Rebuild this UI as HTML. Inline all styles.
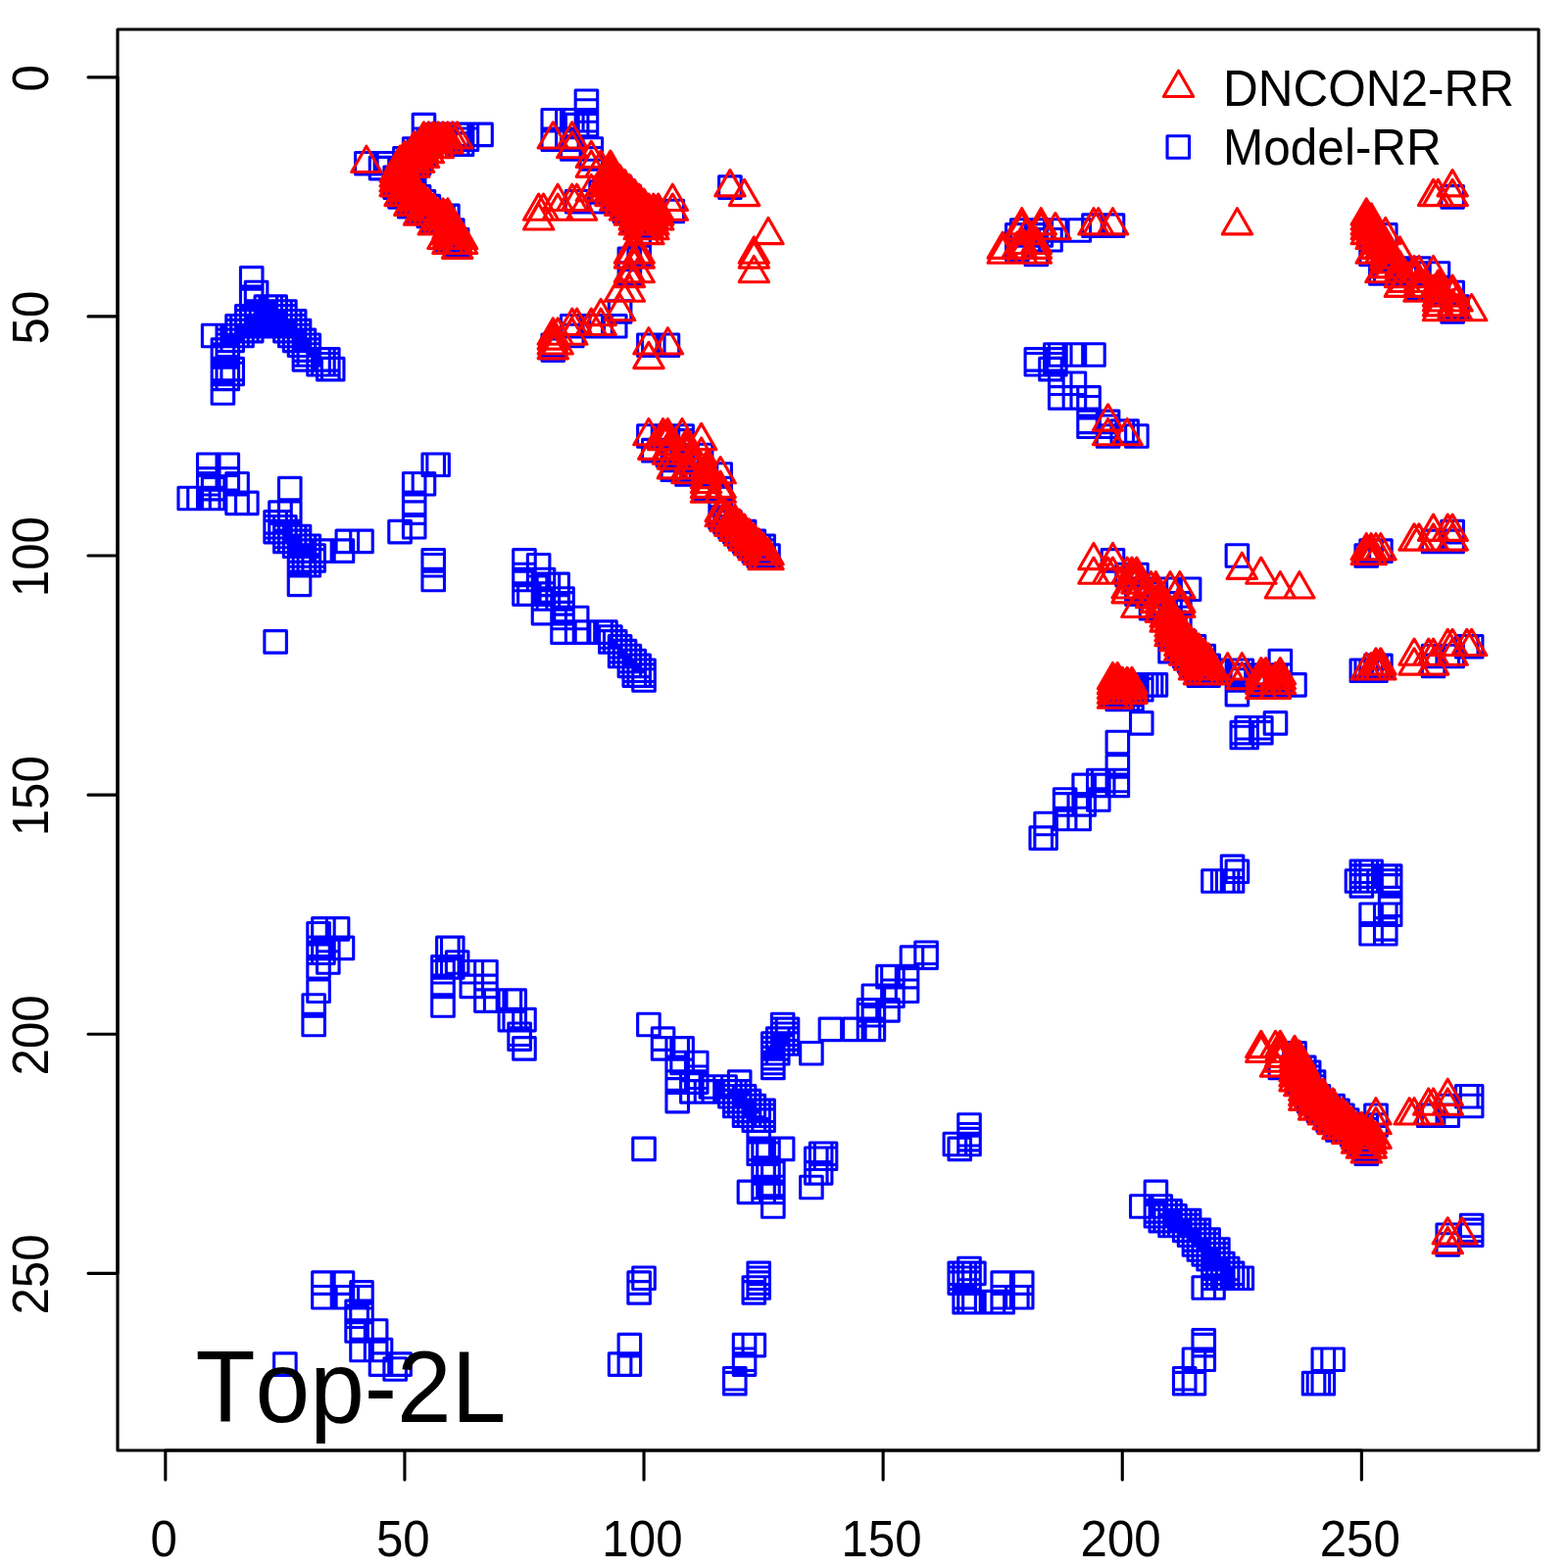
<!DOCTYPE html>
<html><head><meta charset="utf-8"><title>Top-2L contact map</title>
<style>
html,body{margin:0;padding:0;background:#fff}
svg{display:block}
text{font-family:"Liberation Sans",Arial,Helvetica,sans-serif;fill:#000;font-kerning:none}
</style></head>
<body>
<svg width="1600" height="1600" viewBox="0 0 1600 1600">
<rect width="1600" height="1600" fill="#fff"/>
<path fill="none" stroke="#00f" stroke-width="3.125" stroke-linejoin="round" d="M181.98 497.2h22.5v22.5h-22.5zM191.75 497.2h22.5v22.5h-22.5zM201.51 463.02h22.5v22.5h-22.5zM201.51 477.67h22.5v22.5h-22.5zM201.51 482.55h22.5v22.5h-22.5zM201.51 497.2h22.5v22.5h-22.5zM206.39 331.21h22.5v22.5h-22.5zM206.39 487.43h22.5v22.5h-22.5zM206.39 497.2h22.5v22.5h-22.5zM216.16 345.85h22.5v22.5h-22.5zM216.16 350.73h22.5v22.5h-22.5zM216.16 365.38h22.5v22.5h-22.5zM216.16 370.26h22.5v22.5h-22.5zM216.16 375.15h22.5v22.5h-22.5zM216.16 389.79h22.5v22.5h-22.5zM221.04 331.21h22.5v22.5h-22.5zM221.04 336.09h22.5v22.5h-22.5zM221.04 340.97h22.5v22.5h-22.5zM221.04 345.85h22.5v22.5h-22.5zM221.04 350.73h22.5v22.5h-22.5zM221.04 365.38h22.5v22.5h-22.5zM221.04 370.26h22.5v22.5h-22.5zM221.04 375.15h22.5v22.5h-22.5zM221.04 463.02h22.5v22.5h-22.5zM221.04 477.67h22.5v22.5h-22.5zM225.92 331.21h22.5v22.5h-22.5zM225.92 336.09h22.5v22.5h-22.5zM225.92 365.38h22.5v22.5h-22.5zM225.92 370.26h22.5v22.5h-22.5zM230.8 321.44h22.5v22.5h-22.5zM230.8 326.32h22.5v22.5h-22.5zM230.8 331.21h22.5v22.5h-22.5zM230.8 482.55h22.5v22.5h-22.5zM230.8 502.08h22.5v22.5h-22.5zM235.68 321.44h22.5v22.5h-22.5zM235.68 326.32h22.5v22.5h-22.5zM235.68 331.21h22.5v22.5h-22.5zM240.57 311.68h22.5v22.5h-22.5zM240.57 316.56h22.5v22.5h-22.5zM240.57 321.44h22.5v22.5h-22.5zM240.57 326.32h22.5v22.5h-22.5zM240.57 502.08h22.5v22.5h-22.5zM245.45 272.62h22.5v22.5h-22.5zM245.45 292.15h22.5v22.5h-22.5zM245.45 311.68h22.5v22.5h-22.5zM245.45 316.56h22.5v22.5h-22.5zM245.45 321.44h22.5v22.5h-22.5zM245.45 326.32h22.5v22.5h-22.5zM250.33 287.27h22.5v22.5h-22.5zM250.33 306.8h22.5v22.5h-22.5zM250.33 311.68h22.5v22.5h-22.5zM250.33 316.56h22.5v22.5h-22.5zM250.33 321.44h22.5v22.5h-22.5zM255.21 306.8h22.5v22.5h-22.5zM255.21 311.68h22.5v22.5h-22.5zM255.21 316.56h22.5v22.5h-22.5zM255.21 321.44h22.5v22.5h-22.5zM260.1 301.91h22.5v22.5h-22.5zM260.1 306.8h22.5v22.5h-22.5zM260.1 311.68h22.5v22.5h-22.5zM260.1 316.56h22.5v22.5h-22.5zM260.1 321.44h22.5v22.5h-22.5zM264.98 301.91h22.5v22.5h-22.5zM264.98 306.8h22.5v22.5h-22.5zM264.98 311.68h22.5v22.5h-22.5zM264.98 316.56h22.5v22.5h-22.5zM264.98 321.44h22.5v22.5h-22.5zM269.86 301.91h22.5v22.5h-22.5zM269.86 306.8h22.5v22.5h-22.5zM269.86 311.68h22.5v22.5h-22.5zM269.86 316.56h22.5v22.5h-22.5zM269.86 321.44h22.5v22.5h-22.5zM269.86 521.61h22.5v22.5h-22.5zM269.86 526.49h22.5v22.5h-22.5zM269.86 531.37h22.5v22.5h-22.5zM269.86 643.66h22.5v22.5h-22.5zM274.74 306.8h22.5v22.5h-22.5zM274.74 311.68h22.5v22.5h-22.5zM274.74 316.56h22.5v22.5h-22.5zM274.74 321.44h22.5v22.5h-22.5zM274.74 511.85h22.5v22.5h-22.5zM274.74 521.61h22.5v22.5h-22.5zM274.74 526.49h22.5v22.5h-22.5zM274.74 531.37h22.5v22.5h-22.5zM279.62 306.8h22.5v22.5h-22.5zM279.62 311.68h22.5v22.5h-22.5zM279.62 316.56h22.5v22.5h-22.5zM279.62 321.44h22.5v22.5h-22.5zM279.62 326.32h22.5v22.5h-22.5zM279.62 526.49h22.5v22.5h-22.5zM279.62 531.37h22.5v22.5h-22.5zM279.62 536.26h22.5v22.5h-22.5zM279.62 541.14h22.5v22.5h-22.5zM279.62 1380.87h22.5v22.5h-22.5zM284.51 316.56h22.5v22.5h-22.5zM284.51 321.44h22.5v22.5h-22.5zM284.51 326.32h22.5v22.5h-22.5zM284.51 331.21h22.5v22.5h-22.5zM284.51 487.43h22.5v22.5h-22.5zM284.51 511.85h22.5v22.5h-22.5zM284.51 531.37h22.5v22.5h-22.5zM284.51 536.26h22.5v22.5h-22.5zM284.51 541.14h22.5v22.5h-22.5zM289.39 316.56h22.5v22.5h-22.5zM289.39 321.44h22.5v22.5h-22.5zM289.39 326.32h22.5v22.5h-22.5zM289.39 331.21h22.5v22.5h-22.5zM289.39 336.09h22.5v22.5h-22.5zM289.39 536.26h22.5v22.5h-22.5zM289.39 541.14h22.5v22.5h-22.5zM289.39 546.02h22.5v22.5h-22.5zM294.27 326.32h22.5v22.5h-22.5zM294.27 331.21h22.5v22.5h-22.5zM294.27 336.09h22.5v22.5h-22.5zM294.27 340.97h22.5v22.5h-22.5zM294.27 536.26h22.5v22.5h-22.5zM294.27 541.14h22.5v22.5h-22.5zM294.27 546.02h22.5v22.5h-22.5zM294.27 550.9h22.5v22.5h-22.5zM294.27 555.79h22.5v22.5h-22.5zM294.27 560.67h22.5v22.5h-22.5zM294.27 565.55h22.5v22.5h-22.5zM294.27 585.08h22.5v22.5h-22.5zM299.15 336.09h22.5v22.5h-22.5zM299.15 340.97h22.5v22.5h-22.5zM299.15 345.85h22.5v22.5h-22.5zM299.15 350.73h22.5v22.5h-22.5zM299.15 355.62h22.5v22.5h-22.5zM299.15 546.02h22.5v22.5h-22.5zM299.15 550.9h22.5v22.5h-22.5zM299.15 555.79h22.5v22.5h-22.5zM299.15 560.67h22.5v22.5h-22.5zM299.15 565.55h22.5v22.5h-22.5zM304.03 340.97h22.5v22.5h-22.5zM304.03 345.85h22.5v22.5h-22.5zM304.03 350.73h22.5v22.5h-22.5zM304.03 546.02h22.5v22.5h-22.5zM304.03 550.9h22.5v22.5h-22.5zM304.03 555.79h22.5v22.5h-22.5zM304.03 560.67h22.5v22.5h-22.5zM304.03 565.55h22.5v22.5h-22.5zM308.92 555.79h22.5v22.5h-22.5zM308.92 560.67h22.5v22.5h-22.5zM308.92 1014.71h22.5v22.5h-22.5zM308.92 1034.24h22.5v22.5h-22.5zM313.8 355.62h22.5v22.5h-22.5zM313.8 360.5h22.5v22.5h-22.5zM313.8 941.47h22.5v22.5h-22.5zM313.8 956.12h22.5v22.5h-22.5zM313.8 961h22.5v22.5h-22.5zM313.8 975.65h22.5v22.5h-22.5zM313.8 1000.06h22.5v22.5h-22.5zM318.68 355.62h22.5v22.5h-22.5zM318.68 360.5h22.5v22.5h-22.5zM318.68 550.9h22.5v22.5h-22.5zM318.68 936.59h22.5v22.5h-22.5zM318.68 956.12h22.5v22.5h-22.5zM318.68 961h22.5v22.5h-22.5zM318.68 1297.87h22.5v22.5h-22.5zM318.68 1312.52h22.5v22.5h-22.5zM323.56 355.62h22.5v22.5h-22.5zM323.56 360.5h22.5v22.5h-22.5zM323.56 365.38h22.5v22.5h-22.5zM323.56 956.12h22.5v22.5h-22.5zM323.56 970.77h22.5v22.5h-22.5zM328.45 365.38h22.5v22.5h-22.5zM333.33 936.59h22.5v22.5h-22.5zM338.21 550.9h22.5v22.5h-22.5zM338.21 956.12h22.5v22.5h-22.5zM338.21 1297.87h22.5v22.5h-22.5zM338.21 1312.52h22.5v22.5h-22.5zM343.09 541.14h22.5v22.5h-22.5zM343.09 1312.52h22.5v22.5h-22.5zM352.86 1327.16h22.5v22.5h-22.5zM352.86 1332.05h22.5v22.5h-22.5zM352.86 1346.69h22.5v22.5h-22.5zM357.74 541.14h22.5v22.5h-22.5zM357.74 1307.64h22.5v22.5h-22.5zM357.74 1312.52h22.5v22.5h-22.5zM357.74 1327.16h22.5v22.5h-22.5zM357.74 1346.69h22.5v22.5h-22.5zM357.74 1366.22h22.5v22.5h-22.5zM362.62 155.45h22.5v22.5h-22.5zM372.38 1346.69h22.5v22.5h-22.5zM372.38 1366.22h22.5v22.5h-22.5zM377.27 160.33h22.5v22.5h-22.5zM377.27 1366.22h22.5v22.5h-22.5zM377.27 1380.87h22.5v22.5h-22.5zM382.15 155.45h22.5v22.5h-22.5zM391.91 170.1h22.5v22.5h-22.5zM391.91 174.98h22.5v22.5h-22.5zM391.91 179.86h22.5v22.5h-22.5zM391.91 1385.75h22.5v22.5h-22.5zM396.8 160.33h22.5v22.5h-22.5zM396.8 165.21h22.5v22.5h-22.5zM396.8 170.1h22.5v22.5h-22.5zM396.8 174.98h22.5v22.5h-22.5zM396.8 179.86h22.5v22.5h-22.5zM396.8 184.74h22.5v22.5h-22.5zM396.8 189.62h22.5v22.5h-22.5zM396.8 531.37h22.5v22.5h-22.5zM396.8 1380.87h22.5v22.5h-22.5zM401.68 150.57h22.5v22.5h-22.5zM401.68 155.45h22.5v22.5h-22.5zM401.68 160.33h22.5v22.5h-22.5zM401.68 165.21h22.5v22.5h-22.5zM401.68 170.1h22.5v22.5h-22.5zM401.68 174.98h22.5v22.5h-22.5zM401.68 179.86h22.5v22.5h-22.5zM401.68 184.74h22.5v22.5h-22.5zM401.68 189.62h22.5v22.5h-22.5zM406.56 150.57h22.5v22.5h-22.5zM406.56 155.45h22.5v22.5h-22.5zM406.56 160.33h22.5v22.5h-22.5zM406.56 165.21h22.5v22.5h-22.5zM406.56 170.1h22.5v22.5h-22.5zM406.56 174.98h22.5v22.5h-22.5zM406.56 179.86h22.5v22.5h-22.5zM406.56 184.74h22.5v22.5h-22.5zM406.56 189.62h22.5v22.5h-22.5zM406.56 194.51h22.5v22.5h-22.5zM406.56 199.39h22.5v22.5h-22.5zM411.44 140.8h22.5v22.5h-22.5zM411.44 145.68h22.5v22.5h-22.5zM411.44 150.57h22.5v22.5h-22.5zM411.44 155.45h22.5v22.5h-22.5zM411.44 160.33h22.5v22.5h-22.5zM411.44 165.21h22.5v22.5h-22.5zM411.44 170.1h22.5v22.5h-22.5zM411.44 174.98h22.5v22.5h-22.5zM411.44 179.86h22.5v22.5h-22.5zM411.44 184.74h22.5v22.5h-22.5zM411.44 189.62h22.5v22.5h-22.5zM411.44 194.51h22.5v22.5h-22.5zM411.44 199.39h22.5v22.5h-22.5zM411.44 482.55h22.5v22.5h-22.5zM411.44 502.08h22.5v22.5h-22.5zM411.44 511.85h22.5v22.5h-22.5zM411.44 526.49h22.5v22.5h-22.5zM416.32 140.8h22.5v22.5h-22.5zM416.32 145.68h22.5v22.5h-22.5zM416.32 150.57h22.5v22.5h-22.5zM416.32 155.45h22.5v22.5h-22.5zM416.32 189.62h22.5v22.5h-22.5zM416.32 194.51h22.5v22.5h-22.5zM416.32 199.39h22.5v22.5h-22.5zM416.32 204.27h22.5v22.5h-22.5zM421.21 116.39h22.5v22.5h-22.5zM421.21 131.04h22.5v22.5h-22.5zM421.21 135.92h22.5v22.5h-22.5zM421.21 140.8h22.5v22.5h-22.5zM421.21 145.68h22.5v22.5h-22.5zM421.21 194.51h22.5v22.5h-22.5zM421.21 199.39h22.5v22.5h-22.5zM421.21 204.27h22.5v22.5h-22.5zM421.21 482.55h22.5v22.5h-22.5zM426.09 131.04h22.5v22.5h-22.5zM426.09 135.92h22.5v22.5h-22.5zM426.09 199.39h22.5v22.5h-22.5zM426.09 204.27h22.5v22.5h-22.5zM426.09 209.15h22.5v22.5h-22.5zM430.97 131.04h22.5v22.5h-22.5zM430.97 204.27h22.5v22.5h-22.5zM430.97 209.15h22.5v22.5h-22.5zM430.97 214.03h22.5v22.5h-22.5zM430.97 463.02h22.5v22.5h-22.5zM430.97 560.67h22.5v22.5h-22.5zM430.97 565.55h22.5v22.5h-22.5zM430.97 580.2h22.5v22.5h-22.5zM435.85 126.16h22.5v22.5h-22.5zM435.85 131.04h22.5v22.5h-22.5zM435.85 209.15h22.5v22.5h-22.5zM435.85 214.03h22.5v22.5h-22.5zM435.85 463.02h22.5v22.5h-22.5zM440.73 126.16h22.5v22.5h-22.5zM440.73 131.04h22.5v22.5h-22.5zM440.73 209.15h22.5v22.5h-22.5zM440.73 214.03h22.5v22.5h-22.5zM440.73 975.65h22.5v22.5h-22.5zM440.73 980.53h22.5v22.5h-22.5zM440.73 995.18h22.5v22.5h-22.5zM440.73 1014.71h22.5v22.5h-22.5zM445.62 209.15h22.5v22.5h-22.5zM445.62 223.8h22.5v22.5h-22.5zM445.62 228.68h22.5v22.5h-22.5zM445.62 233.56h22.5v22.5h-22.5zM445.62 956.12h22.5v22.5h-22.5zM445.62 975.65h22.5v22.5h-22.5zM450.5 223.8h22.5v22.5h-22.5zM450.5 228.68h22.5v22.5h-22.5zM450.5 233.56h22.5v22.5h-22.5zM450.5 956.12h22.5v22.5h-22.5zM450.5 975.65h22.5v22.5h-22.5zM455.38 126.16h22.5v22.5h-22.5zM455.38 131.04h22.5v22.5h-22.5zM455.38 135.92h22.5v22.5h-22.5zM455.38 233.56h22.5v22.5h-22.5zM455.38 238.45h22.5v22.5h-22.5zM455.38 970.77h22.5v22.5h-22.5zM460.26 126.16h22.5v22.5h-22.5zM460.26 131.04h22.5v22.5h-22.5zM460.26 135.92h22.5v22.5h-22.5zM465.15 126.16h22.5v22.5h-22.5zM465.15 131.04h22.5v22.5h-22.5zM470.03 980.53h22.5v22.5h-22.5zM470.03 995.18h22.5v22.5h-22.5zM479.79 126.16h22.5v22.5h-22.5zM484.67 980.53h22.5v22.5h-22.5zM484.67 995.18h22.5v22.5h-22.5zM484.67 1009.82h22.5v22.5h-22.5zM494.44 1009.82h22.5v22.5h-22.5zM509.08 1009.82h22.5v22.5h-22.5zM509.08 1029.35h22.5v22.5h-22.5zM513.97 1009.82h22.5v22.5h-22.5zM513.97 1029.35h22.5v22.5h-22.5zM518.85 1044h22.5v22.5h-22.5zM518.85 1048.88h22.5v22.5h-22.5zM523.73 560.67h22.5v22.5h-22.5zM523.73 575.31h22.5v22.5h-22.5zM523.73 580.2h22.5v22.5h-22.5zM523.73 594.84h22.5v22.5h-22.5zM523.73 1029.35h22.5v22.5h-22.5zM523.73 1058.65h22.5v22.5h-22.5zM528.61 594.84h22.5v22.5h-22.5zM538.38 565.55h22.5v22.5h-22.5zM538.38 580.2h22.5v22.5h-22.5zM543.26 580.2h22.5v22.5h-22.5zM543.26 585.08h22.5v22.5h-22.5zM543.26 594.84h22.5v22.5h-22.5zM543.26 599.72h22.5v22.5h-22.5zM543.26 614.37h22.5v22.5h-22.5zM548.14 585.08h22.5v22.5h-22.5zM548.14 599.72h22.5v22.5h-22.5zM553.02 111.51h22.5v22.5h-22.5zM553.02 131.04h22.5v22.5h-22.5zM553.02 340.97h22.5v22.5h-22.5zM553.02 345.85h22.5v22.5h-22.5zM557.91 585.08h22.5v22.5h-22.5zM557.91 599.72h22.5v22.5h-22.5zM562.79 599.72h22.5v22.5h-22.5zM562.79 604.61h22.5v22.5h-22.5zM562.79 614.37h22.5v22.5h-22.5zM562.79 619.25h22.5v22.5h-22.5zM562.79 633.9h22.5v22.5h-22.5zM567.67 111.51h22.5v22.5h-22.5zM567.67 131.04h22.5v22.5h-22.5zM572.55 111.51h22.5v22.5h-22.5zM572.55 140.8h22.5v22.5h-22.5zM572.55 321.44h22.5v22.5h-22.5zM572.55 331.21h22.5v22.5h-22.5zM577.43 116.39h22.5v22.5h-22.5zM577.43 194.51h22.5v22.5h-22.5zM577.43 619.25h22.5v22.5h-22.5zM577.43 633.9h22.5v22.5h-22.5zM587.2 91.98h22.5v22.5h-22.5zM587.2 101.75h22.5v22.5h-22.5zM587.2 111.51h22.5v22.5h-22.5zM587.2 116.39h22.5v22.5h-22.5zM587.2 633.9h22.5v22.5h-22.5zM592.08 140.8h22.5v22.5h-22.5zM592.08 150.57h22.5v22.5h-22.5zM592.08 321.44h22.5v22.5h-22.5zM601.85 184.74h22.5v22.5h-22.5zM601.85 194.51h22.5v22.5h-22.5zM601.85 321.44h22.5v22.5h-22.5zM601.85 633.9h22.5v22.5h-22.5zM606.73 633.9h22.5v22.5h-22.5zM611.61 179.86h22.5v22.5h-22.5zM611.61 184.74h22.5v22.5h-22.5zM611.61 638.78h22.5v22.5h-22.5zM611.61 643.66h22.5v22.5h-22.5zM616.49 179.86h22.5v22.5h-22.5zM616.49 184.74h22.5v22.5h-22.5zM616.49 189.62h22.5v22.5h-22.5zM616.49 321.44h22.5v22.5h-22.5zM616.49 643.66h22.5v22.5h-22.5zM621.37 179.86h22.5v22.5h-22.5zM621.37 184.74h22.5v22.5h-22.5zM621.37 189.62h22.5v22.5h-22.5zM621.37 194.51h22.5v22.5h-22.5zM621.37 306.8h22.5v22.5h-22.5zM621.37 648.55h22.5v22.5h-22.5zM621.37 653.43h22.5v22.5h-22.5zM621.37 658.31h22.5v22.5h-22.5zM621.37 1380.87h22.5v22.5h-22.5zM626.26 189.62h22.5v22.5h-22.5zM626.26 194.51h22.5v22.5h-22.5zM626.26 199.39h22.5v22.5h-22.5zM626.26 204.27h22.5v22.5h-22.5zM626.26 653.43h22.5v22.5h-22.5zM626.26 658.31h22.5v22.5h-22.5zM631.14 189.62h22.5v22.5h-22.5zM631.14 194.51h22.5v22.5h-22.5zM631.14 199.39h22.5v22.5h-22.5zM631.14 204.27h22.5v22.5h-22.5zM631.14 253.09h22.5v22.5h-22.5zM631.14 267.74h22.5v22.5h-22.5zM631.14 658.31h22.5v22.5h-22.5zM631.14 663.19h22.5v22.5h-22.5zM631.14 668.07h22.5v22.5h-22.5zM631.14 1361.34h22.5v22.5h-22.5zM631.14 1380.87h22.5v22.5h-22.5zM636.02 199.39h22.5v22.5h-22.5zM636.02 204.27h22.5v22.5h-22.5zM636.02 209.15h22.5v22.5h-22.5zM636.02 214.03h22.5v22.5h-22.5zM636.02 663.19h22.5v22.5h-22.5zM636.02 668.07h22.5v22.5h-22.5zM636.02 672.96h22.5v22.5h-22.5zM636.02 677.84h22.5v22.5h-22.5zM640.9 204.27h22.5v22.5h-22.5zM640.9 209.15h22.5v22.5h-22.5zM640.9 214.03h22.5v22.5h-22.5zM640.9 228.68h22.5v22.5h-22.5zM640.9 248.21h22.5v22.5h-22.5zM640.9 668.07h22.5v22.5h-22.5zM640.9 672.96h22.5v22.5h-22.5zM640.9 677.84h22.5v22.5h-22.5zM640.9 1297.87h22.5v22.5h-22.5zM640.9 1307.64h22.5v22.5h-22.5zM645.79 204.27h22.5v22.5h-22.5zM645.79 209.15h22.5v22.5h-22.5zM645.79 214.03h22.5v22.5h-22.5zM645.79 218.92h22.5v22.5h-22.5zM645.79 672.96h22.5v22.5h-22.5zM645.79 677.84h22.5v22.5h-22.5zM645.79 682.72h22.5v22.5h-22.5zM645.79 1161.17h22.5v22.5h-22.5zM645.79 1292.99h22.5v22.5h-22.5zM650.67 204.27h22.5v22.5h-22.5zM650.67 209.15h22.5v22.5h-22.5zM650.67 214.03h22.5v22.5h-22.5zM650.67 218.92h22.5v22.5h-22.5zM650.67 340.97h22.5v22.5h-22.5zM650.67 433.73h22.5v22.5h-22.5zM650.67 1034.24h22.5v22.5h-22.5zM655.55 204.27h22.5v22.5h-22.5zM655.55 209.15h22.5v22.5h-22.5zM655.55 214.03h22.5v22.5h-22.5zM655.55 340.97h22.5v22.5h-22.5zM655.55 448.38h22.5v22.5h-22.5zM665.31 433.73h22.5v22.5h-22.5zM665.31 1048.88h22.5v22.5h-22.5zM665.31 1058.65h22.5v22.5h-22.5zM670.2 340.97h22.5v22.5h-22.5zM670.2 433.73h22.5v22.5h-22.5zM670.2 448.38h22.5v22.5h-22.5zM670.2 453.26h22.5v22.5h-22.5zM675.08 204.27h22.5v22.5h-22.5zM675.08 453.26h22.5v22.5h-22.5zM675.08 458.14h22.5v22.5h-22.5zM675.08 467.91h22.5v22.5h-22.5zM679.96 1058.65h22.5v22.5h-22.5zM679.96 1078.18h22.5v22.5h-22.5zM679.96 1092.82h22.5v22.5h-22.5zM679.96 1112.35h22.5v22.5h-22.5zM684.84 433.73h22.5v22.5h-22.5zM684.84 438.61h22.5v22.5h-22.5zM684.84 453.26h22.5v22.5h-22.5zM684.84 1058.65h22.5v22.5h-22.5zM684.84 1073.29h22.5v22.5h-22.5zM689.72 453.26h22.5v22.5h-22.5zM689.72 458.14h22.5v22.5h-22.5zM689.72 467.91h22.5v22.5h-22.5zM689.72 472.79h22.5v22.5h-22.5zM694.61 472.79h22.5v22.5h-22.5zM694.61 1092.82h22.5v22.5h-22.5zM694.61 1102.59h22.5v22.5h-22.5zM699.49 1073.29h22.5v22.5h-22.5zM699.49 1087.94h22.5v22.5h-22.5zM699.49 1092.82h22.5v22.5h-22.5zM704.37 453.26h22.5v22.5h-22.5zM704.37 472.79h22.5v22.5h-22.5zM709.25 472.79h22.5v22.5h-22.5zM709.25 487.43h22.5v22.5h-22.5zM709.25 1102.59h22.5v22.5h-22.5zM714.14 1097.7h22.5v22.5h-22.5zM723.9 472.79h22.5v22.5h-22.5zM723.9 487.43h22.5v22.5h-22.5zM723.9 497.2h22.5v22.5h-22.5zM723.9 511.85h22.5v22.5h-22.5zM723.9 516.73h22.5v22.5h-22.5zM728.78 521.61h22.5v22.5h-22.5zM728.78 1097.7h22.5v22.5h-22.5zM728.78 1102.59h22.5v22.5h-22.5zM733.66 179.86h22.5v22.5h-22.5zM733.66 521.61h22.5v22.5h-22.5zM733.66 526.49h22.5v22.5h-22.5zM733.66 1102.59h22.5v22.5h-22.5zM733.66 1107.47h22.5v22.5h-22.5zM738.55 531.37h22.5v22.5h-22.5zM738.55 1102.59h22.5v22.5h-22.5zM738.55 1107.47h22.5v22.5h-22.5zM738.55 1112.35h22.5v22.5h-22.5zM738.55 1117.23h22.5v22.5h-22.5zM738.55 1395.51h22.5v22.5h-22.5zM738.55 1400.4h22.5v22.5h-22.5zM743.43 531.37h22.5v22.5h-22.5zM743.43 536.26h22.5v22.5h-22.5zM743.43 1092.82h22.5v22.5h-22.5zM743.43 1102.59h22.5v22.5h-22.5zM743.43 1107.47h22.5v22.5h-22.5zM743.43 1112.35h22.5v22.5h-22.5zM743.43 1117.23h22.5v22.5h-22.5zM748.31 531.37h22.5v22.5h-22.5zM748.31 536.26h22.5v22.5h-22.5zM748.31 541.14h22.5v22.5h-22.5zM748.31 1107.47h22.5v22.5h-22.5zM748.31 1112.35h22.5v22.5h-22.5zM748.31 1117.23h22.5v22.5h-22.5zM748.31 1122.11h22.5v22.5h-22.5zM748.31 1127h22.5v22.5h-22.5zM748.31 1361.34h22.5v22.5h-22.5zM748.31 1375.99h22.5v22.5h-22.5zM748.31 1380.87h22.5v22.5h-22.5zM753.19 541.14h22.5v22.5h-22.5zM753.19 546.02h22.5v22.5h-22.5zM753.19 1112.35h22.5v22.5h-22.5zM753.19 1117.23h22.5v22.5h-22.5zM753.19 1122.11h22.5v22.5h-22.5zM753.19 1127h22.5v22.5h-22.5zM753.19 1205.11h22.5v22.5h-22.5zM758.07 541.14h22.5v22.5h-22.5zM758.07 546.02h22.5v22.5h-22.5zM758.07 550.9h22.5v22.5h-22.5zM758.07 1117.23h22.5v22.5h-22.5zM758.07 1122.11h22.5v22.5h-22.5zM758.07 1127h22.5v22.5h-22.5zM758.07 1131.88h22.5v22.5h-22.5zM758.07 1302.75h22.5v22.5h-22.5zM758.07 1307.64h22.5v22.5h-22.5zM758.07 1361.34h22.5v22.5h-22.5zM762.96 546.02h22.5v22.5h-22.5zM762.96 550.9h22.5v22.5h-22.5zM762.96 555.79h22.5v22.5h-22.5zM762.96 1122.11h22.5v22.5h-22.5zM762.96 1127h22.5v22.5h-22.5zM762.96 1131.88h22.5v22.5h-22.5zM762.96 1141.64h22.5v22.5h-22.5zM762.96 1161.17h22.5v22.5h-22.5zM762.96 1166.05h22.5v22.5h-22.5zM762.96 1288.11h22.5v22.5h-22.5zM762.96 1292.99h22.5v22.5h-22.5zM762.96 1297.87h22.5v22.5h-22.5zM762.96 1302.75h22.5v22.5h-22.5zM767.84 546.02h22.5v22.5h-22.5zM767.84 550.9h22.5v22.5h-22.5zM767.84 555.79h22.5v22.5h-22.5zM767.84 1122.11h22.5v22.5h-22.5zM767.84 1127h22.5v22.5h-22.5zM767.84 1131.88h22.5v22.5h-22.5zM767.84 1161.17h22.5v22.5h-22.5zM767.84 1166.05h22.5v22.5h-22.5zM767.84 1180.7h22.5v22.5h-22.5zM767.84 1185.58h22.5v22.5h-22.5zM767.84 1200.23h22.5v22.5h-22.5zM767.84 1205.11h22.5v22.5h-22.5zM772.72 555.79h22.5v22.5h-22.5zM772.72 1161.17h22.5v22.5h-22.5zM772.72 1166.05h22.5v22.5h-22.5zM772.72 1180.7h22.5v22.5h-22.5zM772.72 1185.58h22.5v22.5h-22.5zM772.72 1200.23h22.5v22.5h-22.5zM777.6 1053.76h22.5v22.5h-22.5zM777.6 1058.65h22.5v22.5h-22.5zM777.6 1063.53h22.5v22.5h-22.5zM777.6 1068.41h22.5v22.5h-22.5zM777.6 1073.29h22.5v22.5h-22.5zM777.6 1078.18h22.5v22.5h-22.5zM777.6 1185.58h22.5v22.5h-22.5zM777.6 1200.23h22.5v22.5h-22.5zM777.6 1205.11h22.5v22.5h-22.5zM777.6 1219.76h22.5v22.5h-22.5zM782.49 1048.88h22.5v22.5h-22.5zM782.49 1053.76h22.5v22.5h-22.5zM782.49 1058.65h22.5v22.5h-22.5zM782.49 1063.53h22.5v22.5h-22.5zM787.37 1034.24h22.5v22.5h-22.5zM787.37 1039.12h22.5v22.5h-22.5zM787.37 1044h22.5v22.5h-22.5zM787.37 1048.88h22.5v22.5h-22.5zM787.37 1053.76h22.5v22.5h-22.5zM787.37 1161.17h22.5v22.5h-22.5zM792.25 1039.12h22.5v22.5h-22.5zM792.25 1044h22.5v22.5h-22.5zM792.25 1048.88h22.5v22.5h-22.5zM792.25 1053.76h22.5v22.5h-22.5zM816.66 1063.53h22.5v22.5h-22.5zM816.66 1200.23h22.5v22.5h-22.5zM821.54 1170.94h22.5v22.5h-22.5zM821.54 1185.58h22.5v22.5h-22.5zM826.42 1166.05h22.5v22.5h-22.5zM826.42 1170.94h22.5v22.5h-22.5zM826.42 1185.58h22.5v22.5h-22.5zM831.31 1166.05h22.5v22.5h-22.5zM831.31 1170.94h22.5v22.5h-22.5zM836.19 1039.12h22.5v22.5h-22.5zM860.6 1039.12h22.5v22.5h-22.5zM875.25 1019.59h22.5v22.5h-22.5zM875.25 1024.47h22.5v22.5h-22.5zM875.25 1039.12h22.5v22.5h-22.5zM880.13 1004.94h22.5v22.5h-22.5zM880.13 1019.59h22.5v22.5h-22.5zM880.13 1024.47h22.5v22.5h-22.5zM880.13 1039.12h22.5v22.5h-22.5zM894.77 985.41h22.5v22.5h-22.5zM894.77 1019.59h22.5v22.5h-22.5zM899.66 985.41h22.5v22.5h-22.5zM899.66 1000.06h22.5v22.5h-22.5zM899.66 1004.94h22.5v22.5h-22.5zM914.3 985.41h22.5v22.5h-22.5zM914.3 1000.06h22.5v22.5h-22.5zM919.19 965.89h22.5v22.5h-22.5zM933.83 961h22.5v22.5h-22.5zM933.83 965.89h22.5v22.5h-22.5zM963.12 1156.29h22.5v22.5h-22.5zM968.01 1161.17h22.5v22.5h-22.5zM968.01 1288.11h22.5v22.5h-22.5zM968.01 1292.99h22.5v22.5h-22.5zM968.01 1297.87h22.5v22.5h-22.5zM972.89 1288.11h22.5v22.5h-22.5zM972.89 1292.99h22.5v22.5h-22.5zM972.89 1297.87h22.5v22.5h-22.5zM972.89 1312.52h22.5v22.5h-22.5zM972.89 1317.4h22.5v22.5h-22.5zM977.77 1136.76h22.5v22.5h-22.5zM977.77 1146.53h22.5v22.5h-22.5zM977.77 1151.41h22.5v22.5h-22.5zM977.77 1156.29h22.5v22.5h-22.5zM977.77 1283.23h22.5v22.5h-22.5zM977.77 1288.11h22.5v22.5h-22.5zM977.77 1292.99h22.5v22.5h-22.5zM977.77 1297.87h22.5v22.5h-22.5zM977.77 1317.4h22.5v22.5h-22.5zM982.65 1288.11h22.5v22.5h-22.5zM982.65 1317.4h22.5v22.5h-22.5zM1002.18 1317.4h22.5v22.5h-22.5zM1011.95 1297.87h22.5v22.5h-22.5zM1011.95 1312.52h22.5v22.5h-22.5zM1011.95 1317.4h22.5v22.5h-22.5zM1026.59 228.68h22.5v22.5h-22.5zM1026.59 243.33h22.5v22.5h-22.5zM1026.59 1312.52h22.5v22.5h-22.5zM1031.47 223.8h22.5v22.5h-22.5zM1031.47 1297.87h22.5v22.5h-22.5zM1031.47 1312.52h22.5v22.5h-22.5zM1046.12 223.8h22.5v22.5h-22.5zM1046.12 228.68h22.5v22.5h-22.5zM1046.12 233.56h22.5v22.5h-22.5zM1046.12 248.21h22.5v22.5h-22.5zM1046.12 355.62h22.5v22.5h-22.5zM1046.12 360.5h22.5v22.5h-22.5zM1051 223.8h22.5v22.5h-22.5zM1051 228.68h22.5v22.5h-22.5zM1051 843.83h22.5v22.5h-22.5zM1055.89 829.19h22.5v22.5h-22.5zM1055.89 843.83h22.5v22.5h-22.5zM1060.77 233.56h22.5v22.5h-22.5zM1060.77 365.38h22.5v22.5h-22.5zM1065.65 223.8h22.5v22.5h-22.5zM1065.65 350.73h22.5v22.5h-22.5zM1065.65 355.62h22.5v22.5h-22.5zM1065.65 360.5h22.5v22.5h-22.5zM1070.53 350.73h22.5v22.5h-22.5zM1070.53 380.03h22.5v22.5h-22.5zM1070.53 394.67h22.5v22.5h-22.5zM1075.41 804.77h22.5v22.5h-22.5zM1075.41 809.66h22.5v22.5h-22.5zM1075.41 824.3h22.5v22.5h-22.5zM1085.18 350.73h22.5v22.5h-22.5zM1085.18 380.03h22.5v22.5h-22.5zM1085.18 394.67h22.5v22.5h-22.5zM1090.06 223.8h22.5v22.5h-22.5zM1090.06 809.66h22.5v22.5h-22.5zM1090.06 824.3h22.5v22.5h-22.5zM1094.94 790.13h22.5v22.5h-22.5zM1094.94 809.66h22.5v22.5h-22.5zM1099.82 394.67h22.5v22.5h-22.5zM1099.82 404.44h22.5v22.5h-22.5zM1099.82 419.08h22.5v22.5h-22.5zM1099.82 423.97h22.5v22.5h-22.5zM1104.71 218.92h22.5v22.5h-22.5zM1104.71 350.73h22.5v22.5h-22.5zM1109.59 785.25h22.5v22.5h-22.5zM1109.59 790.13h22.5v22.5h-22.5zM1109.59 804.77h22.5v22.5h-22.5zM1114.47 785.25h22.5v22.5h-22.5zM1114.47 790.13h22.5v22.5h-22.5zM1119.35 419.08h22.5v22.5h-22.5zM1119.35 423.97h22.5v22.5h-22.5zM1119.35 433.73h22.5v22.5h-22.5zM1124.24 218.92h22.5v22.5h-22.5zM1124.24 560.67h22.5v22.5h-22.5zM1124.24 697.37h22.5v22.5h-22.5zM1129.12 697.37h22.5v22.5h-22.5zM1129.12 702.25h22.5v22.5h-22.5zM1129.12 746.19h22.5v22.5h-22.5zM1129.12 770.6h22.5v22.5h-22.5zM1129.12 785.25h22.5v22.5h-22.5zM1129.12 790.13h22.5v22.5h-22.5zM1134 428.85h22.5v22.5h-22.5zM1134 697.37h22.5v22.5h-22.5zM1134 702.25h22.5v22.5h-22.5zM1138.88 428.85h22.5v22.5h-22.5zM1138.88 575.31h22.5v22.5h-22.5zM1138.88 692.49h22.5v22.5h-22.5zM1138.88 697.37h22.5v22.5h-22.5zM1138.88 702.25h22.5v22.5h-22.5zM1143.76 687.6h22.5v22.5h-22.5zM1143.76 692.49h22.5v22.5h-22.5zM1143.76 697.37h22.5v22.5h-22.5zM1143.76 702.25h22.5v22.5h-22.5zM1148.65 433.73h22.5v22.5h-22.5zM1148.65 575.31h22.5v22.5h-22.5zM1148.65 589.96h22.5v22.5h-22.5zM1148.65 594.84h22.5v22.5h-22.5zM1148.65 687.6h22.5v22.5h-22.5zM1148.65 692.49h22.5v22.5h-22.5zM1153.53 687.6h22.5v22.5h-22.5zM1153.53 692.49h22.5v22.5h-22.5zM1153.53 726.66h22.5v22.5h-22.5zM1153.53 1219.76h22.5v22.5h-22.5zM1158.41 687.6h22.5v22.5h-22.5zM1163.29 594.84h22.5v22.5h-22.5zM1163.29 609.49h22.5v22.5h-22.5zM1163.29 687.6h22.5v22.5h-22.5zM1168.18 589.96h22.5v22.5h-22.5zM1168.18 687.6h22.5v22.5h-22.5zM1168.18 1205.11h22.5v22.5h-22.5zM1168.18 1219.76h22.5v22.5h-22.5zM1168.18 1224.64h22.5v22.5h-22.5zM1168.18 1229.52h22.5v22.5h-22.5zM1173.06 1219.76h22.5v22.5h-22.5zM1173.06 1224.64h22.5v22.5h-22.5zM1173.06 1229.52h22.5v22.5h-22.5zM1173.06 1234.4h22.5v22.5h-22.5zM1177.94 609.49h22.5v22.5h-22.5zM1177.94 1224.64h22.5v22.5h-22.5zM1177.94 1229.52h22.5v22.5h-22.5zM1177.94 1234.4h22.5v22.5h-22.5zM1182.82 589.96h22.5v22.5h-22.5zM1182.82 604.61h22.5v22.5h-22.5zM1182.82 609.49h22.5v22.5h-22.5zM1182.82 653.43h22.5v22.5h-22.5zM1182.82 1224.64h22.5v22.5h-22.5zM1182.82 1229.52h22.5v22.5h-22.5zM1182.82 1234.4h22.5v22.5h-22.5zM1182.82 1239.29h22.5v22.5h-22.5zM1187.7 624.14h22.5v22.5h-22.5zM1187.7 638.78h22.5v22.5h-22.5zM1187.7 1229.52h22.5v22.5h-22.5zM1187.7 1234.4h22.5v22.5h-22.5zM1187.7 1239.29h22.5v22.5h-22.5zM1192.59 604.61h22.5v22.5h-22.5zM1192.59 619.25h22.5v22.5h-22.5zM1192.59 638.78h22.5v22.5h-22.5zM1192.59 643.66h22.5v22.5h-22.5zM1192.59 648.55h22.5v22.5h-22.5zM1192.59 653.43h22.5v22.5h-22.5zM1192.59 1234.4h22.5v22.5h-22.5zM1192.59 1239.29h22.5v22.5h-22.5zM1197.47 643.66h22.5v22.5h-22.5zM1197.47 648.55h22.5v22.5h-22.5zM1197.47 653.43h22.5v22.5h-22.5zM1197.47 658.31h22.5v22.5h-22.5zM1197.47 1234.4h22.5v22.5h-22.5zM1197.47 1239.29h22.5v22.5h-22.5zM1197.47 1244.17h22.5v22.5h-22.5zM1197.47 1395.51h22.5v22.5h-22.5zM1197.47 1400.4h22.5v22.5h-22.5zM1202.35 589.96h22.5v22.5h-22.5zM1202.35 648.55h22.5v22.5h-22.5zM1202.35 653.43h22.5v22.5h-22.5zM1202.35 658.31h22.5v22.5h-22.5zM1202.35 663.19h22.5v22.5h-22.5zM1202.35 1234.4h22.5v22.5h-22.5zM1202.35 1239.29h22.5v22.5h-22.5zM1202.35 1244.17h22.5v22.5h-22.5zM1202.35 1249.05h22.5v22.5h-22.5zM1207.23 648.55h22.5v22.5h-22.5zM1207.23 653.43h22.5v22.5h-22.5zM1207.23 658.31h22.5v22.5h-22.5zM1207.23 663.19h22.5v22.5h-22.5zM1207.23 668.07h22.5v22.5h-22.5zM1207.23 1244.17h22.5v22.5h-22.5zM1207.23 1249.05h22.5v22.5h-22.5zM1207.23 1253.93h22.5v22.5h-22.5zM1207.23 1258.81h22.5v22.5h-22.5zM1207.23 1375.99h22.5v22.5h-22.5zM1207.23 1400.4h22.5v22.5h-22.5zM1212.11 658.31h22.5v22.5h-22.5zM1212.11 663.19h22.5v22.5h-22.5zM1212.11 668.07h22.5v22.5h-22.5zM1212.11 672.96h22.5v22.5h-22.5zM1212.11 677.84h22.5v22.5h-22.5zM1212.11 1244.17h22.5v22.5h-22.5zM1212.11 1249.05h22.5v22.5h-22.5zM1212.11 1253.93h22.5v22.5h-22.5zM1212.11 1258.81h22.5v22.5h-22.5zM1212.11 1263.7h22.5v22.5h-22.5zM1217 658.31h22.5v22.5h-22.5zM1217 663.19h22.5v22.5h-22.5zM1217 668.07h22.5v22.5h-22.5zM1217 672.96h22.5v22.5h-22.5zM1217 677.84h22.5v22.5h-22.5zM1217 1253.93h22.5v22.5h-22.5zM1217 1258.81h22.5v22.5h-22.5zM1217 1263.7h22.5v22.5h-22.5zM1217 1268.58h22.5v22.5h-22.5zM1217 1302.75h22.5v22.5h-22.5zM1217 1356.46h22.5v22.5h-22.5zM1217 1361.34h22.5v22.5h-22.5zM1217 1375.99h22.5v22.5h-22.5zM1221.88 668.07h22.5v22.5h-22.5zM1221.88 672.96h22.5v22.5h-22.5zM1221.88 677.84h22.5v22.5h-22.5zM1221.88 1253.93h22.5v22.5h-22.5zM1221.88 1258.81h22.5v22.5h-22.5zM1221.88 1263.7h22.5v22.5h-22.5zM1221.88 1268.58h22.5v22.5h-22.5zM1221.88 1273.46h22.5v22.5h-22.5zM1226.76 887.77h22.5v22.5h-22.5zM1226.76 1263.7h22.5v22.5h-22.5zM1226.76 1268.58h22.5v22.5h-22.5zM1226.76 1273.46h22.5v22.5h-22.5zM1226.76 1278.34h22.5v22.5h-22.5zM1226.76 1283.23h22.5v22.5h-22.5zM1226.76 1288.11h22.5v22.5h-22.5zM1226.76 1292.99h22.5v22.5h-22.5zM1226.76 1302.75h22.5v22.5h-22.5zM1231.64 672.96h22.5v22.5h-22.5zM1231.64 1263.7h22.5v22.5h-22.5zM1231.64 1268.58h22.5v22.5h-22.5zM1231.64 1273.46h22.5v22.5h-22.5zM1231.64 1278.34h22.5v22.5h-22.5zM1231.64 1283.23h22.5v22.5h-22.5zM1231.64 1288.11h22.5v22.5h-22.5zM1231.64 1292.99h22.5v22.5h-22.5zM1236.53 887.77h22.5v22.5h-22.5zM1236.53 1278.34h22.5v22.5h-22.5zM1236.53 1283.23h22.5v22.5h-22.5zM1236.53 1288.11h22.5v22.5h-22.5zM1236.53 1292.99h22.5v22.5h-22.5zM1241.41 887.77h22.5v22.5h-22.5zM1241.41 1283.23h22.5v22.5h-22.5zM1241.41 1288.11h22.5v22.5h-22.5zM1241.41 1292.99h22.5v22.5h-22.5zM1246.29 873.12h22.5v22.5h-22.5zM1246.29 887.77h22.5v22.5h-22.5zM1246.29 1288.11h22.5v22.5h-22.5zM1246.29 1292.99h22.5v22.5h-22.5zM1251.17 555.79h22.5v22.5h-22.5zM1251.17 672.96h22.5v22.5h-22.5zM1251.17 677.84h22.5v22.5h-22.5zM1251.17 682.72h22.5v22.5h-22.5zM1251.17 697.37h22.5v22.5h-22.5zM1251.17 878.01h22.5v22.5h-22.5zM1251.17 1292.99h22.5v22.5h-22.5zM1256.05 672.96h22.5v22.5h-22.5zM1256.05 677.84h22.5v22.5h-22.5zM1256.05 682.72h22.5v22.5h-22.5zM1256.05 736.42h22.5v22.5h-22.5zM1256.05 741.31h22.5v22.5h-22.5zM1256.05 1292.99h22.5v22.5h-22.5zM1260.94 731.54h22.5v22.5h-22.5zM1260.94 736.42h22.5v22.5h-22.5zM1260.94 741.31h22.5v22.5h-22.5zM1270.7 677.84h22.5v22.5h-22.5zM1270.7 682.72h22.5v22.5h-22.5zM1275.58 677.84h22.5v22.5h-22.5zM1275.58 682.72h22.5v22.5h-22.5zM1275.58 687.6h22.5v22.5h-22.5zM1275.58 731.54h22.5v22.5h-22.5zM1275.58 736.42h22.5v22.5h-22.5zM1290.23 677.84h22.5v22.5h-22.5zM1290.23 682.72h22.5v22.5h-22.5zM1290.23 687.6h22.5v22.5h-22.5zM1290.23 726.66h22.5v22.5h-22.5zM1295.11 663.19h22.5v22.5h-22.5zM1295.11 677.84h22.5v22.5h-22.5zM1295.11 687.6h22.5v22.5h-22.5zM1295.11 1078.18h22.5v22.5h-22.5zM1309.76 687.6h22.5v22.5h-22.5zM1309.76 1063.53h22.5v22.5h-22.5zM1309.76 1078.18h22.5v22.5h-22.5zM1309.76 1083.06h22.5v22.5h-22.5zM1314.64 1078.18h22.5v22.5h-22.5zM1314.64 1083.06h22.5v22.5h-22.5zM1314.64 1087.94h22.5v22.5h-22.5zM1314.64 1092.82h22.5v22.5h-22.5zM1319.52 1078.18h22.5v22.5h-22.5zM1319.52 1083.06h22.5v22.5h-22.5zM1319.52 1087.94h22.5v22.5h-22.5zM1319.52 1092.82h22.5v22.5h-22.5zM1319.52 1097.7h22.5v22.5h-22.5zM1324.4 1083.06h22.5v22.5h-22.5zM1324.4 1087.94h22.5v22.5h-22.5zM1324.4 1092.82h22.5v22.5h-22.5zM1324.4 1097.7h22.5v22.5h-22.5zM1324.4 1102.59h22.5v22.5h-22.5zM1324.4 1107.47h22.5v22.5h-22.5zM1324.4 1112.35h22.5v22.5h-22.5zM1329.29 1092.82h22.5v22.5h-22.5zM1329.29 1097.7h22.5v22.5h-22.5zM1329.29 1102.59h22.5v22.5h-22.5zM1329.29 1107.47h22.5v22.5h-22.5zM1329.29 1112.35h22.5v22.5h-22.5zM1329.29 1400.4h22.5v22.5h-22.5zM1334.17 1107.47h22.5v22.5h-22.5zM1334.17 1112.35h22.5v22.5h-22.5zM1334.17 1117.23h22.5v22.5h-22.5zM1334.17 1122.11h22.5v22.5h-22.5zM1334.17 1400.4h22.5v22.5h-22.5zM1339.05 1112.35h22.5v22.5h-22.5zM1339.05 1117.23h22.5v22.5h-22.5zM1339.05 1122.11h22.5v22.5h-22.5zM1339.05 1375.99h22.5v22.5h-22.5zM1339.05 1400.4h22.5v22.5h-22.5zM1343.93 1117.23h22.5v22.5h-22.5zM1343.93 1122.11h22.5v22.5h-22.5zM1343.93 1127h22.5v22.5h-22.5zM1343.93 1131.88h22.5v22.5h-22.5zM1348.81 1117.23h22.5v22.5h-22.5zM1348.81 1122.11h22.5v22.5h-22.5zM1348.81 1127h22.5v22.5h-22.5zM1348.81 1131.88h22.5v22.5h-22.5zM1348.81 1375.99h22.5v22.5h-22.5zM1353.7 1122.11h22.5v22.5h-22.5zM1353.7 1127h22.5v22.5h-22.5zM1353.7 1131.88h22.5v22.5h-22.5zM1353.7 1136.76h22.5v22.5h-22.5zM1353.7 1141.64h22.5v22.5h-22.5zM1358.58 1127h22.5v22.5h-22.5zM1358.58 1131.88h22.5v22.5h-22.5zM1358.58 1136.76h22.5v22.5h-22.5zM1358.58 1141.64h22.5v22.5h-22.5zM1363.46 1131.88h22.5v22.5h-22.5zM1363.46 1136.76h22.5v22.5h-22.5zM1363.46 1141.64h22.5v22.5h-22.5zM1368.34 1136.76h22.5v22.5h-22.5zM1368.34 1141.64h22.5v22.5h-22.5zM1368.34 1146.53h22.5v22.5h-22.5zM1373.23 887.77h22.5v22.5h-22.5zM1373.23 1136.76h22.5v22.5h-22.5zM1373.23 1141.64h22.5v22.5h-22.5zM1373.23 1146.53h22.5v22.5h-22.5zM1373.23 1151.41h22.5v22.5h-22.5zM1378.11 672.96h22.5v22.5h-22.5zM1378.11 878.01h22.5v22.5h-22.5zM1378.11 882.89h22.5v22.5h-22.5zM1378.11 887.77h22.5v22.5h-22.5zM1378.11 892.65h22.5v22.5h-22.5zM1378.11 1136.76h22.5v22.5h-22.5zM1378.11 1141.64h22.5v22.5h-22.5zM1378.11 1146.53h22.5v22.5h-22.5zM1378.11 1151.41h22.5v22.5h-22.5zM1378.11 1156.29h22.5v22.5h-22.5zM1382.99 555.79h22.5v22.5h-22.5zM1382.99 672.96h22.5v22.5h-22.5zM1382.99 878.01h22.5v22.5h-22.5zM1382.99 882.89h22.5v22.5h-22.5zM1382.99 887.77h22.5v22.5h-22.5zM1382.99 1136.76h22.5v22.5h-22.5zM1382.99 1141.64h22.5v22.5h-22.5zM1382.99 1146.53h22.5v22.5h-22.5zM1382.99 1151.41h22.5v22.5h-22.5zM1382.99 1156.29h22.5v22.5h-22.5zM1382.99 1161.17h22.5v22.5h-22.5zM1382.99 1166.05h22.5v22.5h-22.5zM1387.87 228.68h22.5v22.5h-22.5zM1387.87 248.21h22.5v22.5h-22.5zM1387.87 550.9h22.5v22.5h-22.5zM1387.87 672.96h22.5v22.5h-22.5zM1387.87 878.01h22.5v22.5h-22.5zM1387.87 882.89h22.5v22.5h-22.5zM1387.87 887.77h22.5v22.5h-22.5zM1387.87 921.95h22.5v22.5h-22.5zM1387.87 941.47h22.5v22.5h-22.5zM1392.75 668.07h22.5v22.5h-22.5zM1392.75 672.96h22.5v22.5h-22.5zM1392.75 1127h22.5v22.5h-22.5zM1392.75 1136.76h22.5v22.5h-22.5zM1397.64 267.74h22.5v22.5h-22.5zM1397.64 550.9h22.5v22.5h-22.5zM1397.64 668.07h22.5v22.5h-22.5zM1402.52 228.68h22.5v22.5h-22.5zM1402.52 248.21h22.5v22.5h-22.5zM1402.52 253.09h22.5v22.5h-22.5zM1402.52 267.74h22.5v22.5h-22.5zM1402.52 882.89h22.5v22.5h-22.5zM1402.52 921.95h22.5v22.5h-22.5zM1402.52 936.59h22.5v22.5h-22.5zM1402.52 941.47h22.5v22.5h-22.5zM1407.4 882.89h22.5v22.5h-22.5zM1407.4 887.77h22.5v22.5h-22.5zM1407.4 892.65h22.5v22.5h-22.5zM1407.4 912.18h22.5v22.5h-22.5zM1407.4 921.95h22.5v22.5h-22.5zM1417.16 262.86h22.5v22.5h-22.5zM1417.16 267.74h22.5v22.5h-22.5zM1422.05 262.86h22.5v22.5h-22.5zM1436.69 262.86h22.5v22.5h-22.5zM1436.69 267.74h22.5v22.5h-22.5zM1436.69 282.38h22.5v22.5h-22.5zM1446.46 1127h22.5v22.5h-22.5zM1451.34 541.14h22.5v22.5h-22.5zM1451.34 658.31h22.5v22.5h-22.5zM1451.34 668.07h22.5v22.5h-22.5zM1451.34 1127h22.5v22.5h-22.5zM1456.22 267.74h22.5v22.5h-22.5zM1456.22 282.38h22.5v22.5h-22.5zM1456.22 287.27h22.5v22.5h-22.5zM1465.99 658.31h22.5v22.5h-22.5zM1465.99 1117.23h22.5v22.5h-22.5zM1465.99 1127h22.5v22.5h-22.5zM1465.99 1249.05h22.5v22.5h-22.5zM1465.99 1258.81h22.5v22.5h-22.5zM1470.87 189.62h22.5v22.5h-22.5zM1470.87 287.27h22.5v22.5h-22.5zM1470.87 306.8h22.5v22.5h-22.5zM1470.87 531.37h22.5v22.5h-22.5zM1470.87 541.14h22.5v22.5h-22.5zM1470.87 658.31h22.5v22.5h-22.5zM1475.75 301.91h22.5v22.5h-22.5zM1485.51 648.55h22.5v22.5h-22.5zM1485.51 1107.47h22.5v22.5h-22.5zM1490.4 648.55h22.5v22.5h-22.5zM1490.4 1107.47h22.5v22.5h-22.5zM1490.4 1117.23h22.5v22.5h-22.5zM1490.4 1239.29h22.5v22.5h-22.5zM1490.4 1244.17h22.5v22.5h-22.5zM1490.4 1249.05h22.5v22.5h-22.5z"/>
<path fill="none" stroke="#f00" stroke-width="3.125" stroke-linejoin="round" d="M373.87 149.2l15.15 26.24h-30.3zM403.16 158.97l15.15 26.24h-30.3zM403.16 163.85l15.15 26.24h-30.3zM403.16 168.73l15.15 26.24h-30.3zM403.16 173.61l15.15 26.24h-30.3zM408.05 149.2l15.15 26.24h-30.3zM408.05 154.09l15.15 26.24h-30.3zM408.05 158.97l15.15 26.24h-30.3zM408.05 163.85l15.15 26.24h-30.3zM408.05 168.73l15.15 26.24h-30.3zM408.05 173.61l15.15 26.24h-30.3zM408.05 183.38l15.15 26.24h-30.3zM412.93 144.32l15.15 26.24h-30.3zM412.93 149.2l15.15 26.24h-30.3zM412.93 154.09l15.15 26.24h-30.3zM412.93 158.97l15.15 26.24h-30.3zM412.93 163.85l15.15 26.24h-30.3zM412.93 168.73l15.15 26.24h-30.3zM412.93 173.61l15.15 26.24h-30.3zM412.93 178.5l15.15 26.24h-30.3zM412.93 183.38l15.15 26.24h-30.3zM417.81 144.32l15.15 26.24h-30.3zM417.81 149.2l15.15 26.24h-30.3zM417.81 154.09l15.15 26.24h-30.3zM417.81 168.73l15.15 26.24h-30.3zM417.81 173.61l15.15 26.24h-30.3zM417.81 178.5l15.15 26.24h-30.3zM417.81 183.38l15.15 26.24h-30.3zM417.81 193.14l15.15 26.24h-30.3zM422.69 134.56l15.15 26.24h-30.3zM422.69 139.44l15.15 26.24h-30.3zM422.69 144.32l15.15 26.24h-30.3zM422.69 149.2l15.15 26.24h-30.3zM422.69 154.09l15.15 26.24h-30.3zM422.69 178.5l15.15 26.24h-30.3zM422.69 183.38l15.15 26.24h-30.3zM422.69 188.26l15.15 26.24h-30.3zM422.69 193.14l15.15 26.24h-30.3zM427.57 134.56l15.15 26.24h-30.3zM427.57 139.44l15.15 26.24h-30.3zM427.57 144.32l15.15 26.24h-30.3zM427.57 149.2l15.15 26.24h-30.3zM427.57 183.38l15.15 26.24h-30.3zM427.57 188.26l15.15 26.24h-30.3zM427.57 193.14l15.15 26.24h-30.3zM427.57 202.91l15.15 26.24h-30.3zM432.46 124.79l15.15 26.24h-30.3zM432.46 129.68l15.15 26.24h-30.3zM432.46 134.56l15.15 26.24h-30.3zM432.46 139.44l15.15 26.24h-30.3zM432.46 144.32l15.15 26.24h-30.3zM432.46 188.26l15.15 26.24h-30.3zM432.46 193.14l15.15 26.24h-30.3zM432.46 198.03l15.15 26.24h-30.3zM432.46 202.91l15.15 26.24h-30.3zM437.34 124.79l15.15 26.24h-30.3zM437.34 129.68l15.15 26.24h-30.3zM437.34 134.56l15.15 26.24h-30.3zM437.34 139.44l15.15 26.24h-30.3zM437.34 193.14l15.15 26.24h-30.3zM437.34 198.03l15.15 26.24h-30.3zM437.34 202.91l15.15 26.24h-30.3zM442.22 124.79l15.15 26.24h-30.3zM442.22 129.68l15.15 26.24h-30.3zM442.22 134.56l15.15 26.24h-30.3zM442.22 198.03l15.15 26.24h-30.3zM442.22 202.91l15.15 26.24h-30.3zM442.22 212.67l15.15 26.24h-30.3zM447.1 124.79l15.15 26.24h-30.3zM447.1 129.68l15.15 26.24h-30.3zM447.1 134.56l15.15 26.24h-30.3zM447.1 202.91l15.15 26.24h-30.3zM447.1 207.79l15.15 26.24h-30.3zM447.1 212.67l15.15 26.24h-30.3zM451.98 124.79l15.15 26.24h-30.3zM451.98 129.68l15.15 26.24h-30.3zM451.98 202.91l15.15 26.24h-30.3zM451.98 207.79l15.15 26.24h-30.3zM451.98 212.67l15.15 26.24h-30.3zM451.98 227.32l15.15 26.24h-30.3zM456.87 124.79l15.15 26.24h-30.3zM456.87 129.68l15.15 26.24h-30.3zM456.87 202.91l15.15 26.24h-30.3zM456.87 207.79l15.15 26.24h-30.3zM456.87 212.67l15.15 26.24h-30.3zM456.87 217.55l15.15 26.24h-30.3zM456.87 222.44l15.15 26.24h-30.3zM456.87 227.32l15.15 26.24h-30.3zM456.87 232.2l15.15 26.24h-30.3zM461.75 124.79l15.15 26.24h-30.3zM461.75 212.67l15.15 26.24h-30.3zM461.75 217.55l15.15 26.24h-30.3zM461.75 222.44l15.15 26.24h-30.3zM461.75 227.32l15.15 26.24h-30.3zM461.75 232.2l15.15 26.24h-30.3zM466.63 124.79l15.15 26.24h-30.3zM466.63 222.44l15.15 26.24h-30.3zM466.63 227.32l15.15 26.24h-30.3zM466.63 232.2l15.15 26.24h-30.3zM466.63 237.08l15.15 26.24h-30.3zM471.51 227.32l15.15 26.24h-30.3zM471.51 232.2l15.15 26.24h-30.3zM549.63 198.03l15.15 26.24h-30.3zM549.63 207.79l15.15 26.24h-30.3zM554.51 198.03l15.15 26.24h-30.3zM564.27 124.79l15.15 26.24h-30.3zM564.27 324.96l15.15 26.24h-30.3zM564.27 329.84l15.15 26.24h-30.3zM564.27 334.73l15.15 26.24h-30.3zM564.27 339.61l15.15 26.24h-30.3zM569.16 188.26l15.15 26.24h-30.3zM569.16 198.03l15.15 26.24h-30.3zM569.16 324.96l15.15 26.24h-30.3zM569.16 334.73l15.15 26.24h-30.3zM583.8 124.79l15.15 26.24h-30.3zM583.8 134.56l15.15 26.24h-30.3zM583.8 188.26l15.15 26.24h-30.3zM583.8 315.2l15.15 26.24h-30.3zM583.8 324.96l15.15 26.24h-30.3zM588.68 188.26l15.15 26.24h-30.3zM588.68 315.2l15.15 26.24h-30.3zM593.57 198.03l15.15 26.24h-30.3zM603.33 144.32l15.15 26.24h-30.3zM603.33 154.09l15.15 26.24h-30.3zM603.33 178.5l15.15 26.24h-30.3zM603.33 315.2l15.15 26.24h-30.3zM613.1 154.09l15.15 26.24h-30.3zM613.1 173.61l15.15 26.24h-30.3zM613.1 305.43l15.15 26.24h-30.3zM613.1 315.2l15.15 26.24h-30.3zM617.98 168.73l15.15 26.24h-30.3zM617.98 173.61l15.15 26.24h-30.3zM617.98 178.5l15.15 26.24h-30.3zM622.86 154.09l15.15 26.24h-30.3zM622.86 158.97l15.15 26.24h-30.3zM622.86 163.85l15.15 26.24h-30.3zM622.86 168.73l15.15 26.24h-30.3zM622.86 173.61l15.15 26.24h-30.3zM622.86 178.5l15.15 26.24h-30.3zM622.86 183.38l15.15 26.24h-30.3zM627.74 163.85l15.15 26.24h-30.3zM627.74 168.73l15.15 26.24h-30.3zM627.74 173.61l15.15 26.24h-30.3zM627.74 178.5l15.15 26.24h-30.3zM627.74 183.38l15.15 26.24h-30.3zM627.74 188.26l15.15 26.24h-30.3zM632.62 168.73l15.15 26.24h-30.3zM632.62 173.61l15.15 26.24h-30.3zM632.62 178.5l15.15 26.24h-30.3zM632.62 183.38l15.15 26.24h-30.3zM632.62 188.26l15.15 26.24h-30.3zM632.62 193.14l15.15 26.24h-30.3zM632.62 281.02l15.15 26.24h-30.3zM632.62 300.55l15.15 26.24h-30.3zM637.51 173.61l15.15 26.24h-30.3zM637.51 178.5l15.15 26.24h-30.3zM637.51 183.38l15.15 26.24h-30.3zM637.51 188.26l15.15 26.24h-30.3zM637.51 193.14l15.15 26.24h-30.3zM637.51 198.03l15.15 26.24h-30.3zM642.39 178.5l15.15 26.24h-30.3zM642.39 183.38l15.15 26.24h-30.3zM642.39 188.26l15.15 26.24h-30.3zM642.39 193.14l15.15 26.24h-30.3zM642.39 198.03l15.15 26.24h-30.3zM642.39 202.91l15.15 26.24h-30.3zM642.39 241.96l15.15 26.24h-30.3zM642.39 246.85l15.15 26.24h-30.3zM642.39 261.49l15.15 26.24h-30.3zM642.39 266.38l15.15 26.24h-30.3zM642.39 281.02l15.15 26.24h-30.3zM647.27 183.38l15.15 26.24h-30.3zM647.27 188.26l15.15 26.24h-30.3zM647.27 193.14l15.15 26.24h-30.3zM647.27 198.03l15.15 26.24h-30.3zM647.27 202.91l15.15 26.24h-30.3zM647.27 207.79l15.15 26.24h-30.3zM647.27 212.67l15.15 26.24h-30.3zM652.15 188.26l15.15 26.24h-30.3zM652.15 193.14l15.15 26.24h-30.3zM652.15 198.03l15.15 26.24h-30.3zM652.15 202.91l15.15 26.24h-30.3zM652.15 207.79l15.15 26.24h-30.3zM652.15 212.67l15.15 26.24h-30.3zM652.15 217.55l15.15 26.24h-30.3zM652.15 241.96l15.15 26.24h-30.3zM652.15 246.85l15.15 26.24h-30.3zM652.15 261.49l15.15 26.24h-30.3zM657.04 193.14l15.15 26.24h-30.3zM657.04 198.03l15.15 26.24h-30.3zM657.04 202.91l15.15 26.24h-30.3zM657.04 207.79l15.15 26.24h-30.3zM657.04 212.67l15.15 26.24h-30.3zM657.04 217.55l15.15 26.24h-30.3zM657.04 222.44l15.15 26.24h-30.3zM661.92 198.03l15.15 26.24h-30.3zM661.92 202.91l15.15 26.24h-30.3zM661.92 207.79l15.15 26.24h-30.3zM661.92 212.67l15.15 26.24h-30.3zM661.92 217.55l15.15 26.24h-30.3zM661.92 222.44l15.15 26.24h-30.3zM661.92 334.73l15.15 26.24h-30.3zM661.92 349.37l15.15 26.24h-30.3zM661.92 427.49l15.15 26.24h-30.3zM666.8 198.03l15.15 26.24h-30.3zM666.8 202.91l15.15 26.24h-30.3zM666.8 207.79l15.15 26.24h-30.3zM666.8 212.67l15.15 26.24h-30.3zM666.8 217.55l15.15 26.24h-30.3zM666.8 442.13l15.15 26.24h-30.3zM671.68 198.03l15.15 26.24h-30.3zM671.68 202.91l15.15 26.24h-30.3zM671.68 207.79l15.15 26.24h-30.3zM676.56 427.49l15.15 26.24h-30.3zM676.56 432.37l15.15 26.24h-30.3zM681.45 334.73l15.15 26.24h-30.3zM681.45 427.49l15.15 26.24h-30.3zM681.45 432.37l15.15 26.24h-30.3zM681.45 442.13l15.15 26.24h-30.3zM681.45 447.01l15.15 26.24h-30.3zM686.33 188.26l15.15 26.24h-30.3zM686.33 198.03l15.15 26.24h-30.3zM686.33 437.25l15.15 26.24h-30.3zM686.33 451.9l15.15 26.24h-30.3zM686.33 461.66l15.15 26.24h-30.3zM696.09 427.49l15.15 26.24h-30.3zM700.97 437.25l15.15 26.24h-30.3zM700.97 442.13l15.15 26.24h-30.3zM700.97 447.01l15.15 26.24h-30.3zM700.97 461.66l15.15 26.24h-30.3zM700.97 466.54l15.15 26.24h-30.3zM705.86 451.9l15.15 26.24h-30.3zM705.86 456.78l15.15 26.24h-30.3zM705.86 466.54l15.15 26.24h-30.3zM715.62 432.37l15.15 26.24h-30.3zM715.62 447.01l15.15 26.24h-30.3zM720.5 461.66l15.15 26.24h-30.3zM720.5 466.54l15.15 26.24h-30.3zM720.5 471.43l15.15 26.24h-30.3zM720.5 476.31l15.15 26.24h-30.3zM720.5 481.19l15.15 26.24h-30.3zM720.5 486.07l15.15 26.24h-30.3zM735.15 466.54l15.15 26.24h-30.3zM735.15 481.19l15.15 26.24h-30.3zM735.15 486.07l15.15 26.24h-30.3zM735.15 505.6l15.15 26.24h-30.3zM735.15 510.48l15.15 26.24h-30.3zM740.03 510.48l15.15 26.24h-30.3zM740.03 515.36l15.15 26.24h-30.3zM744.91 173.61l15.15 26.24h-30.3zM744.91 515.36l15.15 26.24h-30.3zM744.91 520.25l15.15 26.24h-30.3zM749.8 515.36l15.15 26.24h-30.3zM749.8 520.25l15.15 26.24h-30.3zM749.8 525.13l15.15 26.24h-30.3zM754.68 520.25l15.15 26.24h-30.3zM754.68 525.13l15.15 26.24h-30.3zM754.68 530.01l15.15 26.24h-30.3zM759.56 183.38l15.15 26.24h-30.3zM759.56 525.13l15.15 26.24h-30.3zM759.56 530.01l15.15 26.24h-30.3zM759.56 534.89l15.15 26.24h-30.3zM764.44 530.01l15.15 26.24h-30.3zM764.44 534.89l15.15 26.24h-30.3zM764.44 539.78l15.15 26.24h-30.3zM769.32 241.96l15.15 26.24h-30.3zM769.32 246.85l15.15 26.24h-30.3zM769.32 261.49l15.15 26.24h-30.3zM769.32 534.89l15.15 26.24h-30.3zM769.32 539.78l15.15 26.24h-30.3zM769.32 544.66l15.15 26.24h-30.3zM774.21 539.78l15.15 26.24h-30.3zM774.21 544.66l15.15 26.24h-30.3zM774.21 549.54l15.15 26.24h-30.3zM779.09 544.66l15.15 26.24h-30.3zM779.09 549.54l15.15 26.24h-30.3zM779.09 554.42l15.15 26.24h-30.3zM783.97 222.44l15.15 26.24h-30.3zM783.97 549.54l15.15 26.24h-30.3zM783.97 554.42l15.15 26.24h-30.3zM1023.2 237.08l15.15 26.24h-30.3zM1023.2 241.96l15.15 26.24h-30.3zM1037.84 237.08l15.15 26.24h-30.3zM1042.72 212.67l15.15 26.24h-30.3zM1042.72 217.55l15.15 26.24h-30.3zM1042.72 232.2l15.15 26.24h-30.3zM1042.72 237.08l15.15 26.24h-30.3zM1042.72 241.96l15.15 26.24h-30.3zM1047.61 222.44l15.15 26.24h-30.3zM1057.37 232.2l15.15 26.24h-30.3zM1057.37 237.08l15.15 26.24h-30.3zM1057.37 241.96l15.15 26.24h-30.3zM1062.25 212.67l15.15 26.24h-30.3zM1062.25 217.55l15.15 26.24h-30.3zM1076.9 217.55l15.15 26.24h-30.3zM1115.96 212.67l15.15 26.24h-30.3zM1115.96 554.42l15.15 26.24h-30.3zM1115.96 569.07l15.15 26.24h-30.3zM1120.84 212.67l15.15 26.24h-30.3zM1130.6 412.84l15.15 26.24h-30.3zM1130.6 427.49l15.15 26.24h-30.3zM1130.6 569.07l15.15 26.24h-30.3zM1135.49 212.67l15.15 26.24h-30.3zM1135.49 554.42l15.15 26.24h-30.3zM1135.49 569.07l15.15 26.24h-30.3zM1135.49 676.48l15.15 26.24h-30.3zM1135.49 681.36l15.15 26.24h-30.3zM1135.49 686.24l15.15 26.24h-30.3zM1135.49 691.12l15.15 26.24h-30.3zM1135.49 696l15.15 26.24h-30.3zM1140.37 676.48l15.15 26.24h-30.3zM1140.37 681.36l15.15 26.24h-30.3zM1140.37 686.24l15.15 26.24h-30.3zM1140.37 691.12l15.15 26.24h-30.3zM1140.37 696l15.15 26.24h-30.3zM1145.25 681.36l15.15 26.24h-30.3zM1145.25 686.24l15.15 26.24h-30.3zM1145.25 691.12l15.15 26.24h-30.3zM1150.13 427.49l15.15 26.24h-30.3zM1150.13 569.07l15.15 26.24h-30.3zM1150.13 583.72l15.15 26.24h-30.3zM1150.13 588.6l15.15 26.24h-30.3zM1150.13 681.36l15.15 26.24h-30.3zM1150.13 686.24l15.15 26.24h-30.3zM1150.13 691.12l15.15 26.24h-30.3zM1155.01 569.07l15.15 26.24h-30.3zM1155.01 573.95l15.15 26.24h-30.3zM1155.01 681.36l15.15 26.24h-30.3zM1155.01 686.24l15.15 26.24h-30.3zM1155.01 691.12l15.15 26.24h-30.3zM1159.9 569.07l15.15 26.24h-30.3zM1159.9 573.95l15.15 26.24h-30.3zM1159.9 578.83l15.15 26.24h-30.3zM1159.9 603.24l15.15 26.24h-30.3zM1164.78 578.83l15.15 26.24h-30.3zM1164.78 583.72l15.15 26.24h-30.3zM1169.66 588.6l15.15 26.24h-30.3zM1174.54 583.72l15.15 26.24h-30.3zM1174.54 593.48l15.15 26.24h-30.3zM1179.43 583.72l15.15 26.24h-30.3zM1179.43 588.6l15.15 26.24h-30.3zM1179.43 598.36l15.15 26.24h-30.3zM1184.31 593.48l15.15 26.24h-30.3zM1184.31 598.36l15.15 26.24h-30.3zM1184.31 603.24l15.15 26.24h-30.3zM1184.31 608.13l15.15 26.24h-30.3zM1189.19 603.24l15.15 26.24h-30.3zM1189.19 613.01l15.15 26.24h-30.3zM1189.19 617.89l15.15 26.24h-30.3zM1194.07 583.72l15.15 26.24h-30.3zM1194.07 608.13l15.15 26.24h-30.3zM1194.07 613.01l15.15 26.24h-30.3zM1194.07 617.89l15.15 26.24h-30.3zM1194.07 622.77l15.15 26.24h-30.3zM1194.07 627.65l15.15 26.24h-30.3zM1194.07 632.54l15.15 26.24h-30.3zM1198.95 617.89l15.15 26.24h-30.3zM1198.95 622.77l15.15 26.24h-30.3zM1198.95 627.65l15.15 26.24h-30.3zM1198.95 632.54l15.15 26.24h-30.3zM1198.95 637.42l15.15 26.24h-30.3zM1203.84 583.72l15.15 26.24h-30.3zM1203.84 598.36l15.15 26.24h-30.3zM1203.84 603.24l15.15 26.24h-30.3zM1203.84 622.77l15.15 26.24h-30.3zM1203.84 627.65l15.15 26.24h-30.3zM1203.84 632.54l15.15 26.24h-30.3zM1203.84 637.42l15.15 26.24h-30.3zM1203.84 642.3l15.15 26.24h-30.3zM1203.84 647.18l15.15 26.24h-30.3zM1208.72 632.54l15.15 26.24h-30.3zM1208.72 637.42l15.15 26.24h-30.3zM1208.72 642.3l15.15 26.24h-30.3zM1208.72 647.18l15.15 26.24h-30.3zM1208.72 652.07l15.15 26.24h-30.3zM1213.6 637.42l15.15 26.24h-30.3zM1213.6 642.3l15.15 26.24h-30.3zM1213.6 647.18l15.15 26.24h-30.3zM1213.6 652.07l15.15 26.24h-30.3zM1213.6 656.95l15.15 26.24h-30.3zM1218.48 642.3l15.15 26.24h-30.3zM1218.48 647.18l15.15 26.24h-30.3zM1218.48 652.07l15.15 26.24h-30.3zM1218.48 656.95l15.15 26.24h-30.3zM1218.48 661.83l15.15 26.24h-30.3zM1218.48 666.71l15.15 26.24h-30.3zM1223.36 647.18l15.15 26.24h-30.3zM1223.36 652.07l15.15 26.24h-30.3zM1223.36 656.95l15.15 26.24h-30.3zM1223.36 661.83l15.15 26.24h-30.3zM1223.36 666.71l15.15 26.24h-30.3zM1223.36 671.59l15.15 26.24h-30.3zM1228.25 652.07l15.15 26.24h-30.3zM1228.25 656.95l15.15 26.24h-30.3zM1228.25 661.83l15.15 26.24h-30.3zM1228.25 666.71l15.15 26.24h-30.3zM1228.25 671.59l15.15 26.24h-30.3zM1233.13 656.95l15.15 26.24h-30.3zM1233.13 661.83l15.15 26.24h-30.3zM1233.13 666.71l15.15 26.24h-30.3zM1233.13 671.59l15.15 26.24h-30.3zM1238.01 666.71l15.15 26.24h-30.3zM1238.01 671.59l15.15 26.24h-30.3zM1252.66 666.71l15.15 26.24h-30.3zM1262.42 212.67l15.15 26.24h-30.3zM1267.3 564.19l15.15 26.24h-30.3zM1267.3 666.71l15.15 26.24h-30.3zM1267.3 676.48l15.15 26.24h-30.3zM1286.83 569.07l15.15 26.24h-30.3zM1286.83 671.59l15.15 26.24h-30.3zM1286.83 676.48l15.15 26.24h-30.3zM1286.83 681.36l15.15 26.24h-30.3zM1286.83 686.24l15.15 26.24h-30.3zM1286.83 1052.4l15.15 26.24h-30.3zM1286.83 1057.28l15.15 26.24h-30.3zM1291.71 671.59l15.15 26.24h-30.3zM1291.71 676.48l15.15 26.24h-30.3zM1291.71 681.36l15.15 26.24h-30.3zM1301.48 676.48l15.15 26.24h-30.3zM1301.48 681.36l15.15 26.24h-30.3zM1301.48 686.24l15.15 26.24h-30.3zM1301.48 1052.4l15.15 26.24h-30.3zM1301.48 1071.93l15.15 26.24h-30.3zM1306.36 583.72l15.15 26.24h-30.3zM1306.36 671.59l15.15 26.24h-30.3zM1306.36 676.48l15.15 26.24h-30.3zM1306.36 681.36l15.15 26.24h-30.3zM1306.36 1052.4l15.15 26.24h-30.3zM1306.36 1057.28l15.15 26.24h-30.3zM1306.36 1062.17l15.15 26.24h-30.3zM1306.36 1067.05l15.15 26.24h-30.3zM1321.01 1057.28l15.15 26.24h-30.3zM1321.01 1062.17l15.15 26.24h-30.3zM1321.01 1067.05l15.15 26.24h-30.3zM1321.01 1071.93l15.15 26.24h-30.3zM1321.01 1076.81l15.15 26.24h-30.3zM1321.01 1081.69l15.15 26.24h-30.3zM1321.01 1086.58l15.15 26.24h-30.3zM1325.89 583.72l15.15 26.24h-30.3zM1325.89 1062.17l15.15 26.24h-30.3zM1325.89 1067.05l15.15 26.24h-30.3zM1325.89 1071.93l15.15 26.24h-30.3zM1325.89 1076.81l15.15 26.24h-30.3zM1325.89 1081.69l15.15 26.24h-30.3zM1325.89 1086.58l15.15 26.24h-30.3zM1325.89 1091.46l15.15 26.24h-30.3zM1330.77 1071.93l15.15 26.24h-30.3zM1330.77 1076.81l15.15 26.24h-30.3zM1330.77 1081.69l15.15 26.24h-30.3zM1330.77 1086.58l15.15 26.24h-30.3zM1330.77 1091.46l15.15 26.24h-30.3zM1330.77 1096.34l15.15 26.24h-30.3zM1330.77 1101.22l15.15 26.24h-30.3zM1330.77 1106.11l15.15 26.24h-30.3zM1335.65 1086.58l15.15 26.24h-30.3zM1335.65 1091.46l15.15 26.24h-30.3zM1335.65 1096.34l15.15 26.24h-30.3zM1335.65 1101.22l15.15 26.24h-30.3zM1335.65 1106.11l15.15 26.24h-30.3zM1340.54 1091.46l15.15 26.24h-30.3zM1340.54 1096.34l15.15 26.24h-30.3zM1340.54 1101.22l15.15 26.24h-30.3zM1340.54 1106.11l15.15 26.24h-30.3zM1340.54 1110.99l15.15 26.24h-30.3zM1340.54 1115.87l15.15 26.24h-30.3zM1345.42 1101.22l15.15 26.24h-30.3zM1345.42 1106.11l15.15 26.24h-30.3zM1345.42 1110.99l15.15 26.24h-30.3zM1345.42 1115.87l15.15 26.24h-30.3zM1350.3 1101.22l15.15 26.24h-30.3zM1350.3 1106.11l15.15 26.24h-30.3zM1350.3 1110.99l15.15 26.24h-30.3zM1350.3 1115.87l15.15 26.24h-30.3zM1350.3 1120.75l15.15 26.24h-30.3zM1355.18 1110.99l15.15 26.24h-30.3zM1355.18 1115.87l15.15 26.24h-30.3zM1355.18 1120.75l15.15 26.24h-30.3zM1355.18 1125.63l15.15 26.24h-30.3zM1360.06 1110.99l15.15 26.24h-30.3zM1360.06 1115.87l15.15 26.24h-30.3zM1360.06 1120.75l15.15 26.24h-30.3zM1360.06 1125.63l15.15 26.24h-30.3zM1360.06 1130.52l15.15 26.24h-30.3zM1364.95 1120.75l15.15 26.24h-30.3zM1364.95 1125.63l15.15 26.24h-30.3zM1364.95 1130.52l15.15 26.24h-30.3zM1364.95 1135.4l15.15 26.24h-30.3zM1369.83 1120.75l15.15 26.24h-30.3zM1369.83 1125.63l15.15 26.24h-30.3zM1369.83 1130.52l15.15 26.24h-30.3zM1369.83 1135.4l15.15 26.24h-30.3zM1374.71 1125.63l15.15 26.24h-30.3zM1374.71 1130.52l15.15 26.24h-30.3zM1374.71 1135.4l15.15 26.24h-30.3zM1374.71 1140.28l15.15 26.24h-30.3zM1379.59 1130.52l15.15 26.24h-30.3zM1379.59 1135.4l15.15 26.24h-30.3zM1379.59 1140.28l15.15 26.24h-30.3zM1384.48 1135.4l15.15 26.24h-30.3zM1384.48 1140.28l15.15 26.24h-30.3zM1384.48 1145.16l15.15 26.24h-30.3zM1384.48 1150.04l15.15 26.24h-30.3zM1389.36 1135.4l15.15 26.24h-30.3zM1389.36 1140.28l15.15 26.24h-30.3zM1389.36 1145.16l15.15 26.24h-30.3zM1389.36 1150.04l15.15 26.24h-30.3zM1389.36 1154.93l15.15 26.24h-30.3zM1394.24 202.91l15.15 26.24h-30.3zM1394.24 207.79l15.15 26.24h-30.3zM1394.24 212.67l15.15 26.24h-30.3zM1394.24 217.55l15.15 26.24h-30.3zM1394.24 222.44l15.15 26.24h-30.3zM1394.24 544.66l15.15 26.24h-30.3zM1394.24 549.54l15.15 26.24h-30.3zM1394.24 666.71l15.15 26.24h-30.3zM1394.24 1140.28l15.15 26.24h-30.3zM1394.24 1145.16l15.15 26.24h-30.3zM1394.24 1150.04l15.15 26.24h-30.3zM1394.24 1154.93l15.15 26.24h-30.3zM1394.24 1159.81l15.15 26.24h-30.3zM1399.12 207.79l15.15 26.24h-30.3zM1399.12 212.67l15.15 26.24h-30.3zM1399.12 217.55l15.15 26.24h-30.3zM1399.12 222.44l15.15 26.24h-30.3zM1399.12 227.32l15.15 26.24h-30.3zM1399.12 241.96l15.15 26.24h-30.3zM1399.12 544.66l15.15 26.24h-30.3zM1399.12 549.54l15.15 26.24h-30.3zM1399.12 666.71l15.15 26.24h-30.3zM1399.12 1140.28l15.15 26.24h-30.3zM1399.12 1145.16l15.15 26.24h-30.3zM1399.12 1150.04l15.15 26.24h-30.3zM1399.12 1154.93l15.15 26.24h-30.3zM1404 217.55l15.15 26.24h-30.3zM1404 222.44l15.15 26.24h-30.3zM1404 227.32l15.15 26.24h-30.3zM1404 232.2l15.15 26.24h-30.3zM1404 237.08l15.15 26.24h-30.3zM1404 544.66l15.15 26.24h-30.3zM1404 661.83l15.15 26.24h-30.3zM1404 666.71l15.15 26.24h-30.3zM1404 1120.75l15.15 26.24h-30.3zM1404 1130.52l15.15 26.24h-30.3zM1404 1145.16l15.15 26.24h-30.3zM1408.89 227.32l15.15 26.24h-30.3zM1408.89 232.2l15.15 26.24h-30.3zM1408.89 237.08l15.15 26.24h-30.3zM1408.89 241.96l15.15 26.24h-30.3zM1408.89 261.49l15.15 26.24h-30.3zM1408.89 544.66l15.15 26.24h-30.3zM1408.89 661.83l15.15 26.24h-30.3zM1408.89 666.71l15.15 26.24h-30.3zM1413.77 222.44l15.15 26.24h-30.3zM1413.77 232.2l15.15 26.24h-30.3zM1413.77 237.08l15.15 26.24h-30.3zM1413.77 241.96l15.15 26.24h-30.3zM1413.77 246.85l15.15 26.24h-30.3zM1413.77 251.73l15.15 26.24h-30.3zM1413.77 256.61l15.15 26.24h-30.3zM1418.65 246.85l15.15 26.24h-30.3zM1418.65 251.73l15.15 26.24h-30.3zM1418.65 256.61l15.15 26.24h-30.3zM1423.53 251.73l15.15 26.24h-30.3zM1428.41 241.96l15.15 26.24h-30.3zM1428.41 256.61l15.15 26.24h-30.3zM1428.41 261.49l15.15 26.24h-30.3zM1428.41 266.38l15.15 26.24h-30.3zM1428.41 276.14l15.15 26.24h-30.3zM1433.3 271.26l15.15 26.24h-30.3zM1438.18 1120.75l15.15 26.24h-30.3zM1443.06 261.49l15.15 26.24h-30.3zM1443.06 266.38l15.15 26.24h-30.3zM1443.06 534.89l15.15 26.24h-30.3zM1443.06 652.07l15.15 26.24h-30.3zM1443.06 661.83l15.15 26.24h-30.3zM1443.06 1120.75l15.15 26.24h-30.3zM1447.94 261.49l15.15 26.24h-30.3zM1447.94 271.26l15.15 26.24h-30.3zM1447.94 276.14l15.15 26.24h-30.3zM1447.94 281.02l15.15 26.24h-30.3zM1447.94 534.89l15.15 26.24h-30.3zM1452.83 276.14l15.15 26.24h-30.3zM1457.71 652.07l15.15 26.24h-30.3zM1457.71 1110.99l15.15 26.24h-30.3zM1457.71 1120.75l15.15 26.24h-30.3zM1462.59 183.38l15.15 26.24h-30.3zM1462.59 261.49l15.15 26.24h-30.3zM1462.59 281.02l15.15 26.24h-30.3zM1462.59 525.13l15.15 26.24h-30.3zM1462.59 534.89l15.15 26.24h-30.3zM1462.59 652.07l15.15 26.24h-30.3zM1462.59 661.83l15.15 26.24h-30.3zM1462.59 1110.99l15.15 26.24h-30.3zM1467.47 183.38l15.15 26.24h-30.3zM1467.47 276.14l15.15 26.24h-30.3zM1467.47 281.02l15.15 26.24h-30.3zM1467.47 285.9l15.15 26.24h-30.3zM1467.47 290.79l15.15 26.24h-30.3zM1467.47 295.67l15.15 26.24h-30.3zM1467.47 300.55l15.15 26.24h-30.3zM1477.24 525.13l15.15 26.24h-30.3zM1477.24 642.3l15.15 26.24h-30.3zM1477.24 1101.22l15.15 26.24h-30.3zM1477.24 1110.99l15.15 26.24h-30.3zM1477.24 1242.81l15.15 26.24h-30.3zM1477.24 1252.57l15.15 26.24h-30.3zM1482.12 173.61l15.15 26.24h-30.3zM1482.12 183.38l15.15 26.24h-30.3zM1482.12 281.02l15.15 26.24h-30.3zM1482.12 285.9l15.15 26.24h-30.3zM1482.12 295.67l15.15 26.24h-30.3zM1482.12 300.55l15.15 26.24h-30.3zM1482.12 525.13l15.15 26.24h-30.3zM1482.12 534.89l15.15 26.24h-30.3zM1482.12 642.3l15.15 26.24h-30.3zM1482.12 652.07l15.15 26.24h-30.3zM1487 290.79l15.15 26.24h-30.3zM1487 300.55l15.15 26.24h-30.3zM1491.88 1242.81l15.15 26.24h-30.3zM1496.76 642.3l15.15 26.24h-30.3zM1501.65 300.55l15.15 26.24h-30.3zM1501.65 642.3l15.15 26.24h-30.3z"/>
<g font-size="100"><text transform="translate(199.5 1451) scale(1 1.03)">Top-2L</text></g>
<path fill="none" stroke="#f00" stroke-width="3.125" stroke-linejoin="round" d="M1202.55 72.2l15.15 26.24h-30.3z"/>
<path fill="none" stroke="#00f" stroke-width="3.125" stroke-linejoin="round" d="M1191.05 138.8h22.5v22.5h-22.5z"/>
<g font-size="50"><text transform="translate(1248.1 107.6) scale(.99 1.03)">DNCON2-RR</text><text transform="translate(1248.1 167.6) scale(.99 1.03)">Model-RR</text></g>
<path fill="none" stroke="#000" stroke-width="3.125" stroke-linecap="round" stroke-linejoin="round" d="M168.82 1480H1389.36M168.82 1480v30M412.93 1480v30M657.04 1480v30M901.14 1480v30M1145.25 1480v30M1389.36 1480v30M120 78.82V1299.36M120 78.82h-30M120 322.93h-30M120 567.04h-30M120 811.14h-30M120 1055.25h-30M120 1299.36h-30"/>
<rect x="120" y="30" width="1450" height="1450" fill="none" stroke="#000" stroke-width="3.125" stroke-linejoin="round"/>
<g font-size="50"><text transform="translate(167.22 1588) scale(.985 1.035)" text-anchor="middle">0</text><text transform="translate(411.33 1588) scale(.985 1.035)" text-anchor="middle">50</text><text transform="translate(655.44 1588) scale(.985 1.035)" text-anchor="middle">100</text><text transform="translate(899.54 1588) scale(.985 1.035)" text-anchor="middle">150</text><text transform="translate(1143.65 1588) scale(.985 1.035)" text-anchor="middle">200</text><text transform="translate(1387.76 1588) scale(.985 1.035)" text-anchor="middle">250</text><text transform="translate(48.5 79.92) rotate(-90) scale(.985 1.035)" text-anchor="middle">0</text><text transform="translate(48.5 324.03) rotate(-90) scale(.985 1.035)" text-anchor="middle">50</text><text transform="translate(48.5 568.14) rotate(-90) scale(.985 1.035)" text-anchor="middle">100</text><text transform="translate(48.5 812.24) rotate(-90) scale(.985 1.035)" text-anchor="middle">150</text><text transform="translate(48.5 1056.35) rotate(-90) scale(.985 1.035)" text-anchor="middle">200</text><text transform="translate(48.5 1300.46) rotate(-90) scale(.985 1.035)" text-anchor="middle">250</text></g>
</svg>
</body></html>
